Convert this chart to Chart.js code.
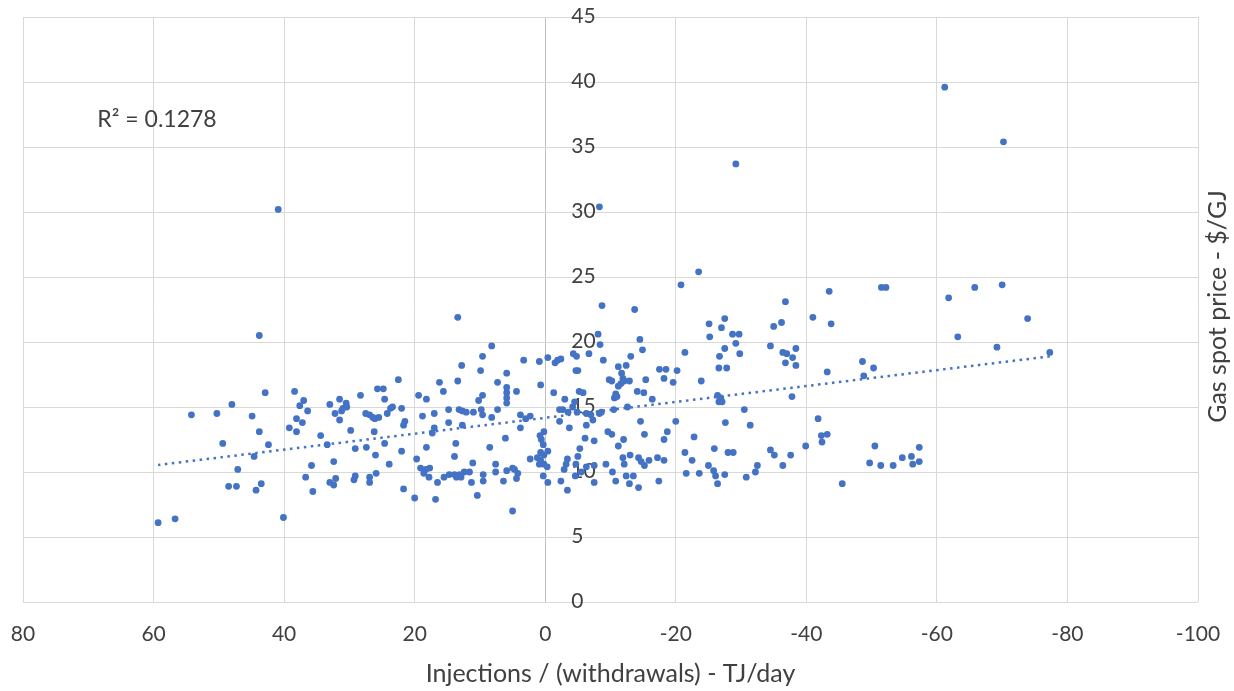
<!DOCTYPE html>
<html>
<head>
<meta charset="utf-8">
<script src="https://cdn.jsdelivr.net/npm/chart.js@4.4.1/dist/chart.umd.min.js"></script>
<style>
  html, body { margin: 0; padding: 0; background: #ffffff; }
  #wrap { width: 1234px; height: 691px; }
</style>
</head>
<body>
<div id="wrap"><canvas id="storageChart" width="1234" height="691"></canvas></div>
<script>
// daily storage flow (TJ/day, injections positive) vs gas spot price ($/GJ)
const observations = [
    [43.8, 20.5], [42.9, 16.1], [48.0, 15.2], [54.2, 14.4], [50.3, 14.5], [44.9, 14.3], [43.8, 13.1], [49.4, 12.2],
    [42.4, 12.1], [44.6, 11.2], [47.1, 10.2], [48.5, 8.9], [47.3, 8.9], [43.5, 9.1], [44.3, 8.6], [59.3, 6.1],
    [56.7, 6.4], [40.1, 6.5], [38.4, 16.2], [37.0, 15.5], [37.6, 15.1], [36.4, 14.7], [38.1, 14.1], [37.2, 13.8],
    [39.2, 13.4], [38.1, 13.1], [34.4, 12.8], [35.8, 10.5], [32.4, 10.8], [36.7, 9.6], [35.6, 8.5], [33.0, 9.2],
    [32.4, 9.0], [32.1, 9.5], [33.0, 15.2], [32.2, 14.5], [31.5, 15.6], [31.5, 14.0],

    [13.4, 21.9], [8.2, 19.7], [9.6, 18.9], [12.8, 18.2], [9.9, 17.8], [3.3, 18.6], [0.9, 18.5], [-0.4, 18.8],
    [5.9, 17.6], [22.5, 17.1], [16.2, 16.9], [13.4, 17.0], [7.3, 16.9], [5.9, 16.5], [5.9, 16.1], [5.9, 15.7],
    [5.9, 15.3], [4.4, 16.2], [0.7, 16.7], [25.7, 16.4], [24.8, 16.4], [24.6, 15.6], [28.3, 15.9], [15.6, 16.2],
    [19.4, 15.9], [18.2, 15.6], [9.6, 15.9], [10.2, 15.5], [30.5, 15.3], [31.0, 14.9], [30.4, 15.0], [31.2, 14.7],
    [27.5, 14.5], [26.9, 14.4], [26.1, 14.1], [25.5, 14.2], [26.4, 14.2], [24.2, 14.5], [23.7, 14.9], [23.4, 15.0],
    [22.0, 14.9], [18.8, 14.3], [17.0, 14.5], [14.8, 14.8], [13.2, 14.8], [12.7, 14.7], [12.1, 14.6], [11.0, 14.6],
    [9.8, 14.8], [9.6, 14.4], [8.2, 14.2], [7.3, 14.8], [3.8, 14.4], [3.0, 14.1], [2.3, 14.3], [21.5, 13.9],
    [21.7, 13.6], [14.8, 13.8], [12.7, 13.6], [3.8, 13.4], [17.0, 13.4], [17.3, 13.0], [29.8, 13.2], [26.2, 13.1],
    [0.8, 12.8], [0.2, 13.1], [0.6, 12.5], [6.1, 12.6], [13.7, 12.2], [24.6, 12.2], [33.4, 12.1], [18.2, 11.9],
    [8.5, 11.9], [29.1, 11.8], [27.4, 11.9], [22.0, 11.6], [26.0, 11.3], [13.9, 11.2], [19.7, 11.0], [2.3, 11.0],
    [0.7, 11.5], [1.2, 11.1], [0.2, 11.3], [0.7, 10.9], [0.9, 10.6], [0.2, 10.6], [-0.3, 10.4], [23.9, 10.6],
    [11.1, 10.7], [7.6, 10.6], [19.1, 10.3], [18.3, 10.2], [17.7, 10.3], [18.6, 9.9], [5.9, 10.1], [4.7, 10.2],
    [4.2, 9.9], [4.4, 9.5], [5.0, 10.3], [7.6, 10.0], [15.5, 9.6], [14.7, 9.8], [13.9, 9.8], [13.1, 9.8],
    [12.4, 10.0], [11.6, 10.0], [13.6, 9.6], [12.9, 9.6], [17.8, 9.6], [9.5, 9.8], [9.5, 9.3], [6.4, 9.3],
    [11.3, 9.2], [16.5, 9.2], [29.1, 9.7], [29.3, 9.4], [26.9, 9.6], [26.9, 9.2], [25.9, 9.9], [0.3, 9.7],
    [-0.4, 9.2], [21.7, 8.7], [20.0, 8.0], [16.8, 7.9], [10.4, 8.2], [5.0, 7.0],

    [-20.8, 24.4], [-8.7, 22.8], [-13.7, 22.5], [-8.1, 20.6], [-8.4, 19.8], [-14.5, 20.2], [-14.9, 19.4], [-1.5, 18.4],
    [-1.9, 18.6], [-2.4, 18.7], [-4.3, 19.1], [-4.8, 18.9], [-6.7, 19.1], [-8.9, 18.6], [-13.1, 18.9], [-5.0, 17.8],
    [-4.7, 17.8], [-11.2, 18.1], [-12.4, 18.2], [-11.7, 17.6], [-9.8, 17.1], [-10.2, 17.0], [-11.2, 16.6], [-11.6, 16.8],
    [-12.1, 17.0], [-12.9, 17.0], [-11.9, 17.2], [-10.8, 16.0], [-10.6, 15.7], [-11.0, 15.8], [-14.1, 16.2], [-15.1, 16.1],
    [-15.4, 17.1], [-17.5, 17.9], [-18.5, 17.9], [-18.2, 17.2], [-19.6, 16.9], [-20.2, 17.8], [-23.9, 17.0], [-21.4, 19.2],
    [-25.1, 21.4], [-27.0, 21.1], [-27.5, 21.8], [-25.2, 20.4], [-28.7, 20.6], [-29.7, 20.6], [-27.5, 19.5], [-26.7, 18.9],
    [-29.2, 19.9], [-29.8, 19.1], [-26.6, 18.0], [-27.8, 18.0], [-26.4, 15.9], [-26.9, 15.7], [-26.6, 15.4], [-27.1, 15.4],
    [-1.3, 16.1], [-5.2, 16.2], [-5.8, 16.1], [-3.0, 15.6], [-2.7, 14.8], [-3.5, 14.6], [-2.2, 14.8], [-4.2, 15.0],
    [-4.5, 15.4], [-4.9, 14.6], [-6.3, 14.5], [-7.0, 14.4], [-8.3, 14.5], [-8.6, 14.6], [-7.3, 14.0], [-10.5, 14.8],
    [-12.6, 15.0], [-16.4, 15.6], [-2.2, 13.9], [-3.7, 13.4], [-6.3, 13.6], [-14.6, 13.9], [-20.0, 13.9], [-27.6, 13.8],
    [0.3, 12.1], [-0.4, 11.6], [-6.1, 12.6], [-7.5, 12.4], [-9.6, 13.1], [-10.2, 12.9], [-12.0, 12.5], [-15.2, 12.9],
    [-18.7, 13.1], [-18.2, 12.5], [-22.8, 12.7], [-11.2, 12.0], [-5.3, 11.8], [-5.0, 11.2], [-13.0, 11.3], [-11.9, 11.1],
    [-12.1, 10.6], [-14.3, 11.1], [-14.7, 10.8], [-15.2, 10.5], [-15.9, 10.9], [-17.2, 11.1], [-18.2, 10.9], [-21.4, 11.5],
    [-22.5, 10.9], [-25.9, 11.8], [-28.0, 11.5], [-28.8, 11.5], [-3.4, 11.0], [-3.2, 10.6], [-2.9, 10.2], [-4.7, 10.6],
    [-6.3, 10.4], [-7.5, 10.5], [-9.3, 10.6], [-10.3, 10.0], [-12.4, 9.7], [-13.5, 9.7], [-12.9, 9.1], [-10.8, 9.3],
    [-14.3, 8.8], [-17.4, 9.3], [-2.4, 9.3], [-3.4, 8.6], [-7.5, 9.2], [-4.6, 9.7], [-5.5, 10.0], [-21.6, 9.9],
    [-23.6, 9.9], [-25.0, 10.5], [-25.8, 10.1], [-26.1, 9.7], [-26.4, 9.1], [-27.5, 9.8],

    [-51.5, 24.2], [-52.2, 24.2], [-43.5, 23.9], [-36.8, 23.1], [-41.0, 21.9], [-43.8, 21.4], [-35.0, 21.2], [-36.2, 21.5],
    [-34.5, 19.7], [-36.4, 19.2], [-37.0, 19.1], [-37.9, 18.8], [-38.4, 19.5], [-36.8, 18.4], [-38.4, 18.2], [-43.2, 17.7],
    [-48.6, 18.5], [-50.3, 18.0], [-48.8, 17.4], [-37.8, 15.8], [-30.5, 14.8], [-31.4, 13.6], [-41.8, 14.1], [-42.3, 12.8],
    [-43.2, 12.9], [-42.4, 12.3], [-39.9, 12.0], [-34.5, 11.7], [-35.1, 11.3], [-37.6, 11.3], [-36.4, 10.5], [-32.5, 10.5],
    [-32.2, 10.0], [-30.8, 9.6], [-50.5, 12.0], [-49.7, 10.7], [-51.4, 10.5], [-53.3, 10.5], [-54.7, 11.1], [-56.1, 11.2],
    [-56.3, 10.6], [-57.3, 10.8], [-57.3, 11.9], [-45.5, 9.1],

    [-61.8, 23.4], [-65.8, 24.2], [-70.0, 24.4], [-73.9, 21.8], [-63.2, 20.4], [-69.2, 19.6], [-77.3, 19.2],
    [40.9, 30.2], [-8.3, 30.4], [-29.2, 33.7], [-23.5, 25.4], [-61.2, 39.6], [-70.2, 35.4]
];

const xTicks = [80, 60, 40, 20, 0, -20, -40, -60, -80, -100];
const yTicks = [0, 5, 10, 15, 20, 25, 30, 35, 40, 45];
const rSquaredText = 'R\u00B2 = 0.1278';
const xTitle = 'Injections / (withdrawals) - TJ/day';
const yTitle = 'Gas spot price - $/GJ';

const textColor = '#404040';
const fontFamily = 'Lato, "Open Sans", sans-serif';

function linearTrend(pairs) {
    const n = pairs.length;
    let sx = 0, sy = 0, sxx = 0, sxy = 0;
    pairs.forEach(([x, y]) => {
        sx += x; sy += y; sxx += x * x; sxy += x * y;
    });
    const slope = (n * sxy - sx * sy) / (n * sxx - sx * sx);
    const intercept = (sy - slope * sx) / n;
    const xs = pairs.map((p) => p[0]);
    const lo = Math.min(...xs);
    const hi = Math.max(...xs);
    return [
        { x: lo, y: intercept + slope * lo },
        { x: hi, y: intercept + slope * hi }
    ];
}

const overlayText = {
    id: 'overlayText',
    beforeDatasetsDraw(chart) {
        const { ctx, chartArea, scales } = chart;
        const axisX = scales.x.getPixelForValue(0);
        ctx.save();
        ctx.fillStyle = textColor;
        ctx.font = `21px ${fontFamily}`;
        ctx.textAlign = 'left';
        ctx.textBaseline = 'middle';
        yTicks.forEach((v) => {
            ctx.fillText(String(v), axisX + 26, scales.y.getPixelForValue(v) - 1);
        });

        ctx.textAlign = 'center';
        ctx.font = `23px ${fontFamily}`;
        ctx.fillText(rSquaredText, chartArea.left + 134, chartArea.top + 103);

        ctx.translate(chartArea.right + 20, (chartArea.top + chartArea.bottom) / 2 - 3);
        ctx.rotate(-Math.PI / 2);
        ctx.font = `25px ${fontFamily}`;
        ctx.fillText(yTitle, 0, 0);
        ctx.restore();
    }
};

function initStorageChart() {
    const canvas = document.getElementById('storageChart');
    if (!canvas || typeof Chart === 'undefined') {
        return;
    }

    new Chart(canvas, {
        type: 'scatter',
        data: {
            datasets: [
                {
                    label: 'Spot price',
                    data: observations.map(([x, y]) => ({ x, y })),
                    backgroundColor: '#4472C4',
                    borderColor: '#4472C4',
                    borderWidth: 0,
                    pointRadius: 3.4,
                    pointHoverRadius: 3.4,
                    order: 1
                },
                {
                    label: 'Linear trend',
                    data: linearTrend(observations),
                    showLine: true,
                    borderColor: '#4472C4',
                    borderWidth: 2.5,
                    borderDash: [2.5, 4.5],
                    pointRadius: 0,
                    fill: false,
                    order: 0
                }
            ]
        },
        options: {
            responsive: false,
            animation: false,
            layout: {
                padding: { left: 23, right: 36, top: 17, bottom: 0 }
            },
            plugins: {
                legend: { display: false },
                tooltip: { enabled: false }
            },
            scales: {
                x: {
                    type: 'linear',
                    reverse: true,
                    min: -100,
                    max: 80,
                    afterBuildTicks(scale) {
                        scale.ticks = xTicks.map((value) => ({ value }));
                    },
                    afterFit(scale) {
                        scale.height = 89;
                        scale.paddingLeft = 0;
                        scale.paddingRight = 0;
                    },
                    grid: {
                        color: (c) => (c.tick && c.tick.value === 0 ? '#bfbfbf' : '#d9d9d9'),
                        lineWidth: 1,
                        drawTicks: false
                    },
                    border: { display: false },
                    ticks: {
                        color: textColor,
                        font: { family: fontFamily, size: 21 },
                        padding: 20,
                        maxRotation: 0,
                        autoSkip: false
                    },
                    title: {
                        display: true,
                        text: xTitle,
                        color: textColor,
                        font: { family: fontFamily, size: 25 },
                        padding: { top: 0, bottom: 2 }
                    }
                },
                y: {
                    type: 'linear',
                    min: 0,
                    max: 45,
                    afterBuildTicks(scale) {
                        scale.ticks = yTicks.map((value) => ({ value }));
                    },
                    afterFit(scale) {
                        scale.width = 0;
                        scale.paddingTop = 0;
                        scale.paddingBottom = 0;
                    },
                    grid: {
                        color: '#d9d9d9',
                        lineWidth: 1,
                        drawTicks: false
                    },
                    border: { display: false },
                    ticks: { display: false }
                }
            }
        },
        plugins: [overlayText]
    });
}

document.addEventListener('DOMContentLoaded', initStorageChart);
</script>
</body>
</html>
